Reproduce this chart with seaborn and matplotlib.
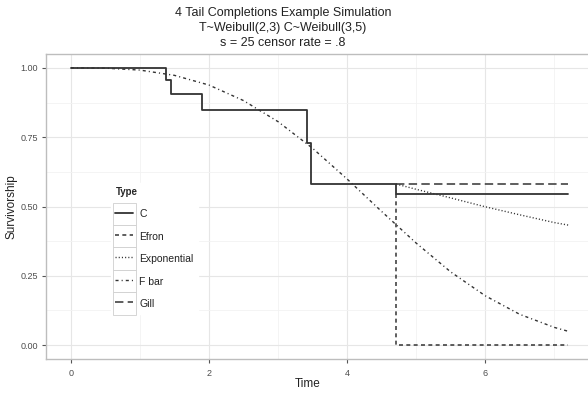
import numpy as np
import pandas as pd
import seaborn as sns
import matplotlib
matplotlib.use("Agg")
import matplotlib.pyplot as plt
from matplotlib.patches import Rectangle
from matplotlib.legend_handler import HandlerLine2D
from matplotlib.ticker import MultipleLocator

# Kaplan-Meier estimate (steps)
km_time = [0.0, 1.38, 1.455, 1.90, 3.42, 3.48, 4.71, 7.2]
km_surv = [1.0, 0.957, 0.905, 0.848, 0.728, 0.581, 0.544, 0.544]

# Efron tail: drop to zero at the last observed time
efron_time = [4.71, 4.71, 7.2]
efron_surv = [0.544, 0.0, 0.0]

# Gill tail: carry the last value forward
gill_time = [4.71, 7.2]
gill_surv = [0.581, 0.581]

# Exponential tail
exp_time = [4.71, 5.0, 5.5, 6.0, 6.5, 7.0, 7.2]
exp_surv = [0.581, 0.562, 0.531, 0.499, 0.470, 0.442, 0.433]

# F bar: true survival curve
fbar_time = [0.0, 0.5, 1.0, 1.5, 2.0, 2.5, 3.0, 3.5, 4.0, 4.5, 5.0, 5.5, 6.0, 6.5, 7.0, 7.2]
fbar_surv = [1.0, 0.999, 0.992, 0.973, 0.938, 0.882, 0.806, 0.710, 0.599, 0.482,
             0.368, 0.264, 0.178, 0.111, 0.064, 0.050]

type_labels = ["C", "Efron", "Exponential", "F bar", "Gill"]

sns.set_theme(style="white")
plt.rcParams["font.family"] = ["Liberation Sans", "DejaVu Sans"]

fig = plt.figure(figsize=(5.88, 3.93), dpi=100)
ax = fig.add_axes([46 / 588, 34 / 393, 547 / 588, 305 / 393])

ink = "#333333"
styles = {
    "C": dict(lw=1.3, ls="-"),
    "Efron": dict(lw=1.1, dashes=(2.6, 2.2)),
    "Exponential": dict(lw=1.0, dashes=(0.8, 1.5)),
    "F bar": dict(lw=1.0, dashes=(2.2, 2.2, 0.8, 2.2)),
    "Gill": dict(lw=1.1, dashes=(5.5, 2.8)),
}

series = {
    "F bar": (fbar_time, fbar_surv, None),
    "Exponential": (exp_time, exp_surv, None),
    "Efron": (efron_time, efron_surv, None),
    "Gill": (gill_time, gill_surv, None),
    "C": (km_time, km_surv, "steps-post"),
}

handles = {}
for name, (t, s, ds) in series.items():
    df = pd.DataFrame({"Time": t, "Survivorship": s})
    kw = dict(styles[name])
    if ds:
        kw["drawstyle"] = ds
    sns.lineplot(data=df, x="Time", y="Survivorship", ax=ax, color=ink,
                 estimator=None, sort=False, label=name, **kw)
    handles[name] = ax.get_lines()[-1]

ax.set_xlim(-0.36, 7.56)
ax.set_ylim(-0.05, 1.05)
ax.xaxis.set_major_locator(MultipleLocator(2))
ax.xaxis.set_minor_locator(MultipleLocator(1))
ax.yaxis.set_major_locator(MultipleLocator(0.25))
ax.yaxis.set_minor_locator(MultipleLocator(0.125))
ax.set_yticks([0, 0.25, 0.5, 0.75, 1.0])
ax.set_yticklabels(["0.00", "0.25", "0.50", "0.75", "1.00"])
ax.set_xticks([0, 2, 4, 6])
ax.set_xticklabels(["0", "2", "4", "6"])

ax.grid(which="major", color="#e6e6e6", lw=0.8)
ax.grid(which="minor", color="#f2f2f2", lw=0.6)
ax.set_axisbelow(True)
for sp in ax.spines.values():
    sp.set_color("#bdbdbd")
    sp.set_linewidth(1.0)

ax.tick_params(axis="both", which="major", length=3, width=0.8, color="#555555",
               labelsize=6.5, labelcolor="#4d4d4d", direction="out",
               bottom=True, left=True)
ax.tick_params(axis="x", which="major", pad=4)
ax.tick_params(axis="y", which="major", pad=3)
ax.tick_params(which="minor", length=0)

ax.set_xlabel("Time", fontsize=8.5, color="#222222")
ax.set_ylabel("Survivorship", fontsize=8.5, color="#222222")
ax.xaxis.set_label_coords((308 - 46) / 547, -0.062)
ax.yaxis.set_label_coords(-0.053, 0.5)

title_lines = ["4 Tail Completions Example Simulation",
               "T~Weibull(2,3) C~Weibull(3,5)",
               "s = 25 censor rate = .8"]
for y_px, line in zip([13, 28, 43], title_lines):
    fig.text(283 / 588, 1 - y_px / 393, line,
             ha="center", va="center", fontsize=9, color="#222222")


class BoxedLine(HandlerLine2D):
    """Legend key with a light bordered box behind the line sample."""

    def create_artists(self, legend, orig_handle, xdescent, ydescent,
                       width, height, fontsize, trans):
        arts = super().create_artists(legend, orig_handle, xdescent, ydescent,
                                      width, height, fontsize, trans)
        pad_y = 0.5 * fontsize
        pad_x = 0.24 * fontsize
        rect = Rectangle((-xdescent - pad_x, -ydescent - pad_y),
                         width + 2 * pad_x, height + 2 * pad_y,
                         transform=trans, facecolor="white",
                         edgecolor="#cfcfcf", lw=0.6)
        return [rect] + list(arts)


if ax.get_legend():
    ax.get_legend().remove()
leg = ax.legend([handles[k] for k in type_labels], type_labels,
                title="Type", loc="upper left",
                bbox_to_anchor=(106 / 588, 1 - 178 / 393),
                bbox_transform=fig.transFigure,
                fontsize=7.5, title_fontsize=7,
                handlelength=1.73, handleheight=1.4, labelspacing=1.0,
                handletextpad=0.55, borderpad=0.4,
                frameon=True, fancybox=False, framealpha=1,
                handler_map={matplotlib.lines.Line2D: BoxedLine()},
                alignment="left")
leg.get_frame().set_edgecolor("white")
leg.get_frame().set_facecolor("white")
leg.get_title().set_fontweight("bold")
for txt in leg.get_texts():
    txt.set_color("#222222")

fig.savefig("out.png", dpi=100)
